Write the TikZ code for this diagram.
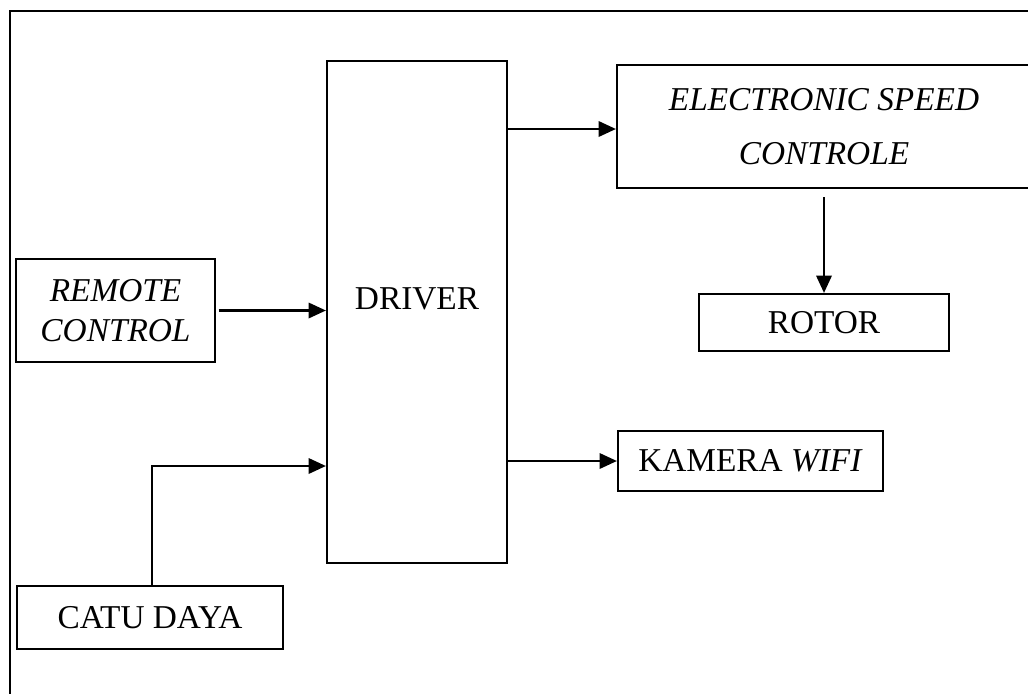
\documentclass[tikz,border=0pt]{standalone}
\usepackage{fontspec}
\setmainfont{Liberation Serif}
\usetikzlibrary{arrows.meta,calc}
\begin{document}
\begin{tikzpicture}[x=0.75pt,y=-0.75pt,
  txt/.style={font=\fontsize{25}{30}\selectfont},
  box/.style={draw,line width=1.6pt,inner sep=0pt,align=center,txt},
  arr/.style={line width=1.8pt,-{Triangle[length=13pt,width=11.5pt]}},
  frame/.style={line width=2.2pt}]
\useasboundingbox (0,0) rectangle (1028,693);
% outer frame (right and bottom edges lie beyond the picture)
\draw[frame] (10,720) -- (10,11) -- (1060,11);
% boxes
\node[box,minimum width=135pt,minimum height=376.5pt] (driver) at (417,312) {};
\node[txt] (drvtxt) at (417,299) {DRIVER};
\node[box,minimum width=310.5pt,minimum height=92.25pt,
  font=\fontsize{25}{41}\selectfont\itshape] (esc) at (824,126.5)
  {ELECTRONIC SPEED\\CONTROLE};
\node[box,minimum width=187.5pt,minimum height=42.75pt] (rotor) at (824,322.5) {ROTOR};
\node[box,minimum width=149.25pt,minimum height=77.25pt,
  font=\fontsize{25}{30}\selectfont\itshape] (remote) at (115.5,310.5)
  {REMOTE\\CONTROL};
\node[box,minimum width=198.75pt,minimum height=45pt] (kamera) at (750.5,461)
  {KAMERA \textit{WIFI}};
\node[box,minimum width=199.5pt,minimum height=47.25pt] (catu) at (150,617.5) {CATU DAYA};
% connectors
\draw[arr] ($(driver.east |- esc.west)+(0,2.5)$) -- ($(esc.west)+(0,2.5)$);
\draw[arr] ([yshift=-6pt]esc.south) -- (rotor.north);
\draw[arr] ([xshift=2pt]remote.east) -- (remote.east -| driver.west);
\draw[arr] (driver.east |- kamera.west) -- (kamera.west);
\coordinate (catuin) at ($(driver.west)+(0,154)$);
\draw[arr] ([xshift=1.5pt]catu.north) |- (catuin);
\end{tikzpicture}
\end{document}
